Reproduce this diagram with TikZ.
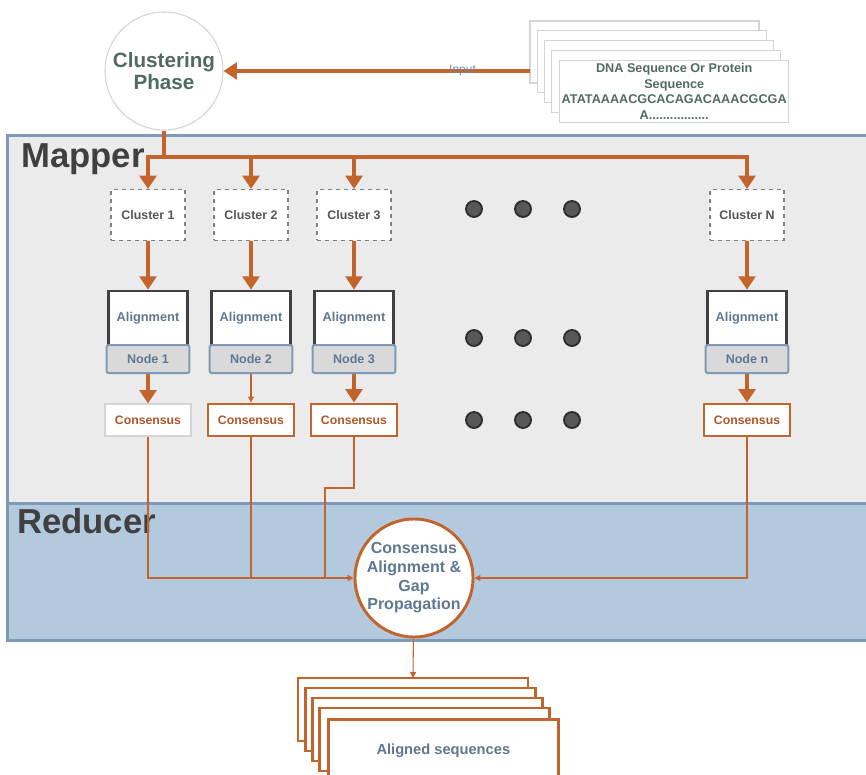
\documentclass[tikz,border=0pt]{standalone}
\usepackage{fontspec}
\setmainfont{Liberation Sans}
\usetikzlibrary{arrows.meta}

\definecolor{flow}{RGB}{196,100,45}
\definecolor{mapfill}{RGB}{235,235,235}
\definecolor{redfill}{RGB}{179,201,222}
\definecolor{panelline}{RGB}{125,155,185}
\definecolor{bandfill}{RGB}{217,217,217}
\definecolor{phasetext}{RGB}{80,108,96}
\definecolor{slatetext}{RGB}{95,120,145}
\definecolor{constext}{RGB}{176,86,40}
\definecolor{titletext}{RGB}{64,64,64}
\definecolor{clustertext}{RGB}{85,85,85}
\definecolor{paleline}{RGB}{212,212,212}

\begin{document}
\begin{tikzpicture}[x=0.75pt,y=-0.75pt,
    flowline/.style={draw=flow, line width=3pt},
    flowarrow/.style={flowline, -{Triangle[length=10pt,width=12.5pt]}},
    thinflow/.style={draw=flow, line width=0.8pt},
    thinarrow/.style={thinflow, -{Triangle[length=4.5pt,width=4.5pt]}},
    panel/.style={draw=panelline, line width=2.25pt},
    paneltitle/.style={font=\bfseries\fontsize{26}{30}\selectfont, text=titletext, inner sep=0pt},
    phase/.style={circle, draw=paleline, line width=0.8pt, fill=white, minimum size=88.5pt, inner sep=0pt, align=center, font=\bfseries\fontsize{15.5}{17}\selectfont, text=phasetext},
    inpage/.style={draw=paleline, line width=0.8pt, fill=white},
    inputlabel/.style={font=\fontsize{9}{10}\selectfont, text={rgb,255:red,120;green,135;blue,160}, inner sep=0pt},
    clusterbox/.style={draw=gray, dashed, line width=1pt, fill=white, minimum width=55.5pt, minimum height=38pt, font=\bfseries\fontsize{9.3}{11}\selectfont, text=clustertext},
    alignbox/.style={draw=titletext, line width=2pt, fill=white, minimum width=59pt, minimum height=40.5pt, font=\bfseries\fontsize{9.6}{11}\selectfont, text=slatetext},
    nodeband/.style={draw=panelline, line width=1.5pt, fill=bandfill, rounded corners=1.5pt, minimum width=62pt, minimum height=21pt, font=\bfseries\fontsize{9.4}{11}\selectfont, text=slatetext},
    consbox/.style={draw=flow, line width=2.2pt, fill=white, minimum width=64.5pt, minimum height=24pt, font=\bfseries\fontsize{9.2}{11}\selectfont, text=constext},
    consplain/.style={consbox, draw=paleline, line width=0.8pt},
    reducebox/.style={circle, draw=flow, line width=2.2pt, fill=white, minimum size=88.5pt, inner sep=0pt, align=center, font=\bfseries\fontsize{12}{14}\selectfont, text=slatetext},
    outpage/.style={draw=flow, line width=2pt, fill=white}]

\useasboundingbox (0,0) rectangle (866,774);
\clip (0,0) rectangle (866,774);

% mapper and reducer panels
\draw[panel, fill=mapfill] (7,135) rectangle (880,503);
\draw[panel, fill=redfill] (7,503) rectangle (880,640);
\node[paneltitle, anchor=base west] (maptitle) at (21,167) {Mapper};
\node[paneltitle, anchor=base west] (redtitle) at (17,533) {Reducer};

% input sequences
\foreach \k in {0,...,3}
    \draw[inpage] ({530+7.2*\k},{21+9.8*\k}) rectangle +(229,62);
\node[inpage, anchor=north west, minimum width=172pt, minimum height=46.5pt, inner sep=1pt,
      align=center, font=\bfseries\fontsize{9.5}{11.8}\selectfont, text=phasetext] (dna) at (559,60)
    {DNA Sequence Or Protein\\Sequence\\ATATAAAACGCACAGACAAACGCGA\\A.................};
\coordinate (stacktip) at (530,71);

\node[phase] (cp) at (164,71) {Clustering\\Phase};
\draw[flowarrow] (stacktip) -- (cp) node[pos=0.22, inputlabel] {Input};

% one column per cluster
\foreach \n/\x/\lab/\cs in {1/148/1/consplain, 2/251/2/consbox, 3/354/3/consbox, N/747/n/consbox} {
    \node[clusterbox] (c\n) at (\x,215) {Cluster \n};
    \node[alignbox] (a\n) at (\x,318) {Alignment};
    \node[nodeband] (b\n) at (\x,359) {Node \lab};
    \node[\cs] (s\n) at (\x,420) {Consensus};
    \draw[flowarrow] (c\n) -- (a\n);
}

\coordinate (split) at (164,157);
\draw[flowline] (cp) -- (split);
\draw[flowline] (split) -- (cN |- split);
\draw[flowarrow] (split) -| (c1);
\draw[flowarrow] (c2 |- split) -- (c2);
\draw[flowarrow] (c3 |- split) -- (c3);
\draw[flowarrow] (split) -| (cN);

\draw[flowarrow] (b1) -- (s1);
\draw[thinarrow] (b2) -- (s2);
\draw[flowarrow] (b3) -- (s3);
\draw[flowarrow] (bN) -- (sN);

% dots
\foreach \x in {474,523,572}
    \foreach \y in {209,338,420}
        \filldraw[fill={rgb,255:red,88;green,88;blue,88}, draw={rgb,255:red,45;green,45;blue,45}, line width=1.4pt] (\x,\y) circle (6pt);

% reducer
\node[reducebox] (red) at (414,578) {Consensus\\Alignment \&\\Gap\\Propagation};
\coordinate (jog) at (325,488);
\draw[thinarrow] (s1) |- (red.west);
\draw[thinflow] (s2) -- (s2 |- red.west);
\draw[thinflow] (s3) |- (jog) -- (jog |- red.west);
\draw[thinarrow] (sN) |- (red.east);

% aligned output
\foreach \k in {0,...,3}
    \draw[outpage] ({298+7.2*\k},{678+10*\k}) rectangle +(230,63);
\node[outpage, anchor=north west, minimum width=172.5pt, minimum height=47pt,
      font=\bfseries\fontsize{11}{13}\selectfont, text=slatetext] (aligned) at (327,718) {Aligned sequences};
\coordinate (outtop) at (413,678);
\draw[thinarrow] (red) -- (outtop);
\end{tikzpicture}
\end{document}
